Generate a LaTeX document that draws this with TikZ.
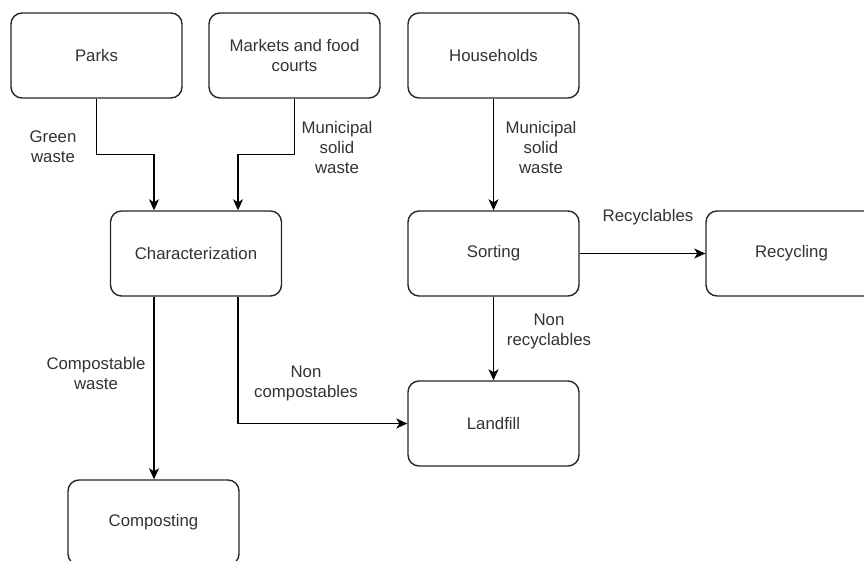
\documentclass[tikz,border=0pt]{standalone}
\usepackage{fontspec}
\setmainfont{Liberation Sans}
\usetikzlibrary{arrows.meta}
\definecolor{txt}{HTML}{333333}
\begin{document}
\begin{tikzpicture}[x=1pt,y=-1pt,
  box/.style={draw=black!85, line width=1.4pt, rounded corners=11pt,
    minimum width=171pt, minimum height=85pt, inner sep=0pt,
    align=center, text=txt, font=\fontsize{16.8}{20}\selectfont},
  lbl/.style={align=center, text=txt, inner sep=0pt,
    font=\fontsize{16.8}{20}\selectfont},
  arr/.style={draw=black, line width=1.4pt,
    -{Stealth[length=11pt,width=10pt,inset=3pt]}}]
\useasboundingbox (0,0) rectangle (864,561);
\clip (0,0) rectangle (864,561);
\fill[white] (0,0) rectangle (864,561);

% process boxes
\node[box] (parks)    at (96.5,55.5)  {Parks};
\node[box] (markets)  at (294.5,55.5) {Markets and food\\courts};
\node[box] (house)    at (493.5,55.5) {Households};
\node[box] (char)     at (196,253.5)  {Characterization};
\node[box] (sorting)  at (493.5,253.5){Sorting};
\node[box] (recyc)    at (791.5,253.5){Recycling};
\node[box] (landfill) at (493.5,423.5){Landfill};
\node[box] (compost)  at (153.5,522.5){Composting};

% flows
\draw[arr] (parks.south) -- ++(0,56) -| ([xshift=-42pt]char.north);
\draw[arr] (markets.south) -- ++(0,56) -| ([xshift=42pt]char.north);
\draw[arr] (house) -- (sorting);
\draw[arr] (sorting) -- (recyc);
\draw[arr] ([xshift=-42pt]char.south) -- ([xshift=-42pt]char.south |- compost.north);
\draw[arr] ([xshift=42pt]char.south) |- (landfill.west);
\draw[arr] (sorting) -- (landfill);

% flow labels
\node[lbl] (l1) at (53,147)   {Green\\waste};
\node[lbl] (l2) at (337,147)  {Municipal\\solid\\waste};
\node[lbl] (l3) at (541,147)  {Municipal\\solid\\waste};
\node[lbl] (l4) at (648,217)  {Recyclables};
\node[lbl] (l5) at (96,373.5) {Compostable\\waste};
\node[lbl] (l6) at (306,383)  {Non\\compostables};
\node[lbl] (l7) at (549,331)  {Non\\recyclables};
\end{tikzpicture}
\end{document}
